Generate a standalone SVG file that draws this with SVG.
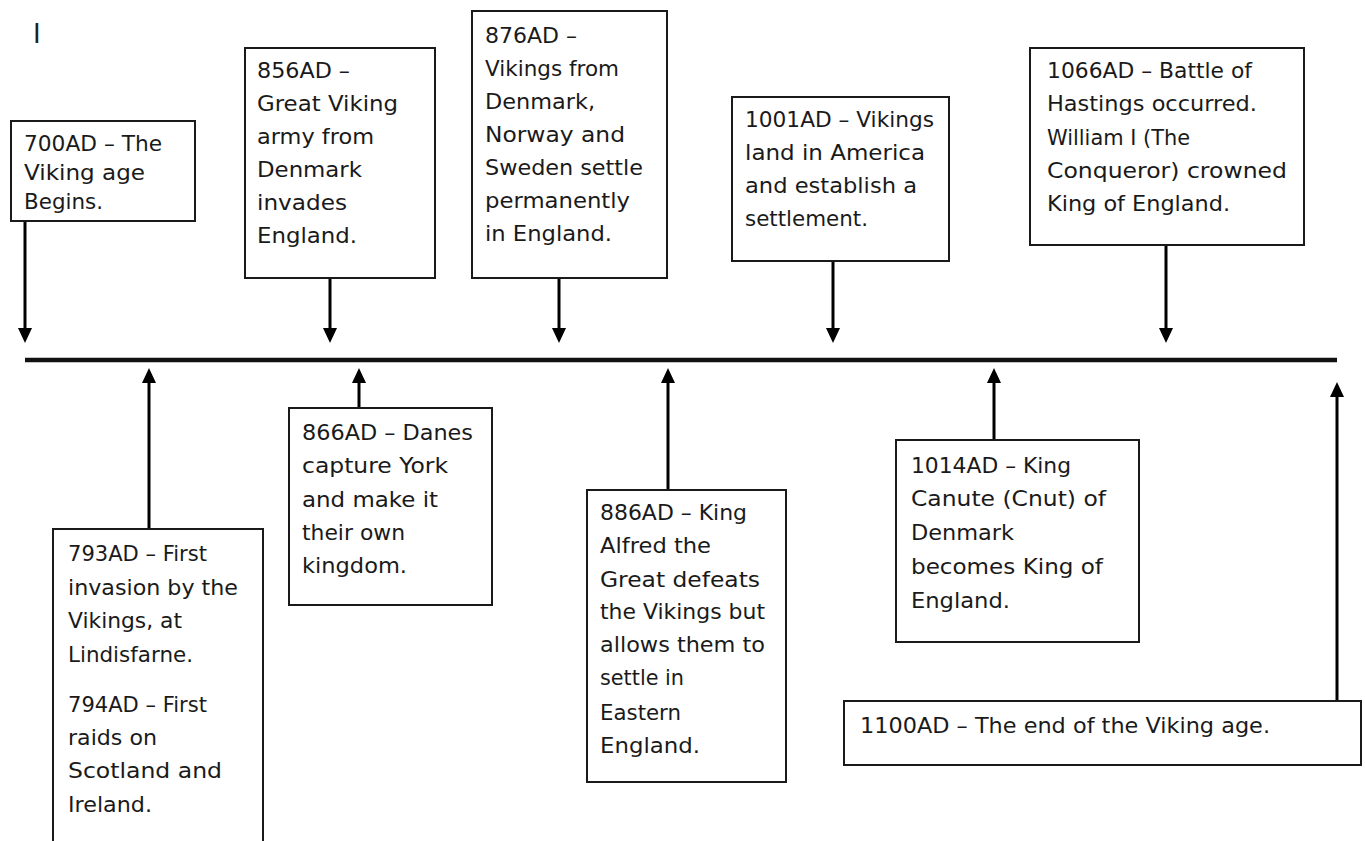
<svg xmlns="http://www.w3.org/2000/svg" width="1365" height="841" viewBox="0 0 1365 841">
<style>
.box{fill:#fff;stroke:#1a1a1a;stroke-width:2}
.t{font-family:"DejaVu Sans","Liberation Sans",sans-serif;font-size:21px;fill:#1a1a1a}
.ln{stroke:#000;stroke-width:3;fill:none}
.tl{stroke:#111;stroke-width:4.5;fill:none}
</style>
<defs>
<marker id="ah" viewBox="0 0 15 14" markerWidth="15" markerHeight="14" refX="7" refY="7" orient="auto" markerUnits="userSpaceOnUse">
<path d="M0,0 L15,7 L0,14 Z" fill="#000"/>
</marker>
</defs>
<rect width="1365" height="841" fill="#fff"/>
<text x="33" y="43" style="font-family:'DejaVu Sans',sans-serif;font-size:26px;fill:#222">I</text>

<g id="connectors">
<line class="tl" x1="25" y1="360" x2="1337" y2="360"/>
<line class="ln" x1="25" y1="221" x2="25" y2="335" marker-end="url(#ah)"/>
<line class="ln" x1="330" y1="278" x2="330" y2="335" marker-end="url(#ah)"/>
<line class="ln" x1="559" y1="278" x2="559" y2="335" marker-end="url(#ah)"/>
<line class="ln" x1="833" y1="261" x2="833" y2="335" marker-end="url(#ah)"/>
<line class="ln" x1="1166" y1="245" x2="1166" y2="335" marker-end="url(#ah)"/>
<line class="ln" x1="149" y1="529" x2="149" y2="376" marker-end="url(#ah)"/>
<line class="ln" x1="359" y1="408" x2="359" y2="376" marker-end="url(#ah)"/>
<line class="ln" x1="668" y1="490" x2="668" y2="376" marker-end="url(#ah)"/>
<line class="ln" x1="994" y1="440" x2="994" y2="376" marker-end="url(#ah)"/>
<line class="ln" x1="1337" y1="701" x2="1337" y2="390" marker-end="url(#ah)"/>
</g>

<g id="n700">
<rect class="box" x="11" y="121" width="184" height="100"/>
<text class="t" x="24" y="151" textLength="138" lengthAdjust="spacingAndGlyphs">700AD – The</text>
<text class="t" x="24" y="180" textLength="121" lengthAdjust="spacingAndGlyphs">Viking age</text>
<text class="t" x="24" y="209" textLength="79" lengthAdjust="spacingAndGlyphs">Begins.</text>
</g>

<g id="n856">
<rect class="box" x="245" y="48" width="190" height="230"/>
<text class="t" x="257" y="78" textLength="93" lengthAdjust="spacingAndGlyphs">856AD –</text>
<text class="t" x="257" y="111" textLength="141" lengthAdjust="spacingAndGlyphs">Great Viking</text>
<text class="t" x="257" y="144" textLength="117" lengthAdjust="spacingAndGlyphs">army from</text>
<text class="t" x="257" y="177" textLength="105" lengthAdjust="spacingAndGlyphs">Denmark</text>
<text class="t" x="257" y="210" textLength="90" lengthAdjust="spacingAndGlyphs">invades</text>
<text class="t" x="257" y="243" textLength="100" lengthAdjust="spacingAndGlyphs">England.</text>
</g>

<g id="n876">
<rect class="box" x="472" y="11" width="195" height="267"/>
<text class="t" x="485" y="43" textLength="92" lengthAdjust="spacingAndGlyphs">876AD –</text>
<text class="t" x="485" y="76" textLength="134" lengthAdjust="spacingAndGlyphs">Vikings from</text>
<text class="t" x="485" y="109" textLength="110" lengthAdjust="spacingAndGlyphs">Denmark,</text>
<text class="t" x="485" y="142" textLength="140" lengthAdjust="spacingAndGlyphs">Norway and</text>
<text class="t" x="485" y="175" textLength="158" lengthAdjust="spacingAndGlyphs">Sweden settle</text>
<text class="t" x="485" y="208" textLength="145" lengthAdjust="spacingAndGlyphs">permanently</text>
<text class="t" x="485" y="241" textLength="127" lengthAdjust="spacingAndGlyphs">in England.</text>
</g>

<g id="n1001">
<rect class="box" x="732" y="97" width="217" height="164"/>
<text class="t" x="745" y="127" textLength="189" lengthAdjust="spacingAndGlyphs">1001AD – Vikings</text>
<text class="t" x="745" y="160" textLength="180" lengthAdjust="spacingAndGlyphs">land in America</text>
<text class="t" x="745" y="193" textLength="172" lengthAdjust="spacingAndGlyphs">and establish a</text>
<text class="t" x="745" y="226" textLength="123" lengthAdjust="spacingAndGlyphs">settlement.</text>
</g>

<g id="n1066">
<rect class="box" x="1030" y="48" width="274" height="197"/>
<text class="t" x="1047" y="78" textLength="205" lengthAdjust="spacingAndGlyphs">1066AD – Battle of</text>
<text class="t" x="1047" y="111" textLength="210" lengthAdjust="spacingAndGlyphs">Hastings occurred.</text>
<text class="t" x="1047" y="145" textLength="143" lengthAdjust="spacingAndGlyphs">William I (The</text>
<text class="t" x="1047" y="178" textLength="240" lengthAdjust="spacingAndGlyphs">Conqueror) crowned</text>
<text class="t" x="1047" y="211" textLength="183" lengthAdjust="spacingAndGlyphs">King of England.</text>
</g>

<g id="n793">
<rect class="box" x="53" y="529" width="210" height="330"/>
<text class="t" x="68" y="561" textLength="139" lengthAdjust="spacingAndGlyphs">793AD – First</text>
<text class="t" x="68" y="595" textLength="170" lengthAdjust="spacingAndGlyphs">invasion by the</text>
<text class="t" x="68" y="628" textLength="114" lengthAdjust="spacingAndGlyphs">Vikings, at</text>
<text class="t" x="68" y="662" textLength="125" lengthAdjust="spacingAndGlyphs">Lindisfarne.</text>
<text class="t" x="68" y="712" textLength="139" lengthAdjust="spacingAndGlyphs">794AD – First</text>
<text class="t" x="68" y="745" textLength="89" lengthAdjust="spacingAndGlyphs">raids on</text>
<text class="t" x="68" y="778" textLength="154" lengthAdjust="spacingAndGlyphs">Scotland and</text>
<text class="t" x="68" y="812" textLength="84" lengthAdjust="spacingAndGlyphs">Ireland.</text>
</g>

<g id="n866">
<rect class="box" x="289" y="408" width="203" height="197"/>
<text class="t" x="302" y="440" textLength="171" lengthAdjust="spacingAndGlyphs">866AD – Danes</text>
<text class="t" x="302" y="473" textLength="146" lengthAdjust="spacingAndGlyphs">capture York</text>
<text class="t" x="302" y="507" textLength="136" lengthAdjust="spacingAndGlyphs">and make it</text>
<text class="t" x="302" y="540" textLength="103" lengthAdjust="spacingAndGlyphs">their own</text>
<text class="t" x="302" y="573" textLength="105" lengthAdjust="spacingAndGlyphs">kingdom.</text>
</g>

<g id="n886">
<rect class="box" x="587" y="490" width="199" height="292"/>
<text class="t" x="600" y="520" textLength="147" lengthAdjust="spacingAndGlyphs">886AD – King</text>
<text class="t" x="600" y="553" textLength="111" lengthAdjust="spacingAndGlyphs">Alfred the</text>
<text class="t" x="600" y="587" textLength="160" lengthAdjust="spacingAndGlyphs">Great defeats</text>
<text class="t" x="600" y="619" textLength="165" lengthAdjust="spacingAndGlyphs">the Vikings but</text>
<text class="t" x="600" y="652" textLength="165" lengthAdjust="spacingAndGlyphs">allows them to</text>
<text class="t" x="600" y="685" textLength="84" lengthAdjust="spacingAndGlyphs">settle in</text>
<text class="t" x="600" y="720" textLength="81" lengthAdjust="spacingAndGlyphs">Eastern</text>
<text class="t" x="600" y="753" textLength="100" lengthAdjust="spacingAndGlyphs">England.</text>
</g>

<g id="n1014">
<rect class="box" x="896" y="440" width="243" height="202"/>
<text class="t" x="911" y="473" textLength="160" lengthAdjust="spacingAndGlyphs">1014AD – King</text>
<text class="t" x="911" y="506" textLength="195" lengthAdjust="spacingAndGlyphs">Canute (Cnut) of</text>
<text class="t" x="911" y="540" textLength="103" lengthAdjust="spacingAndGlyphs">Denmark</text>
<text class="t" x="911" y="574" textLength="192" lengthAdjust="spacingAndGlyphs">becomes King of</text>
<text class="t" x="911" y="608" textLength="99" lengthAdjust="spacingAndGlyphs">England.</text>
</g>

<g id="n1100">
<rect class="box" x="844" y="701" width="517" height="64"/>
<text class="t" x="860" y="733" textLength="410" lengthAdjust="spacingAndGlyphs">1100AD – The end of the Viking age.</text>
</g>
</svg>
